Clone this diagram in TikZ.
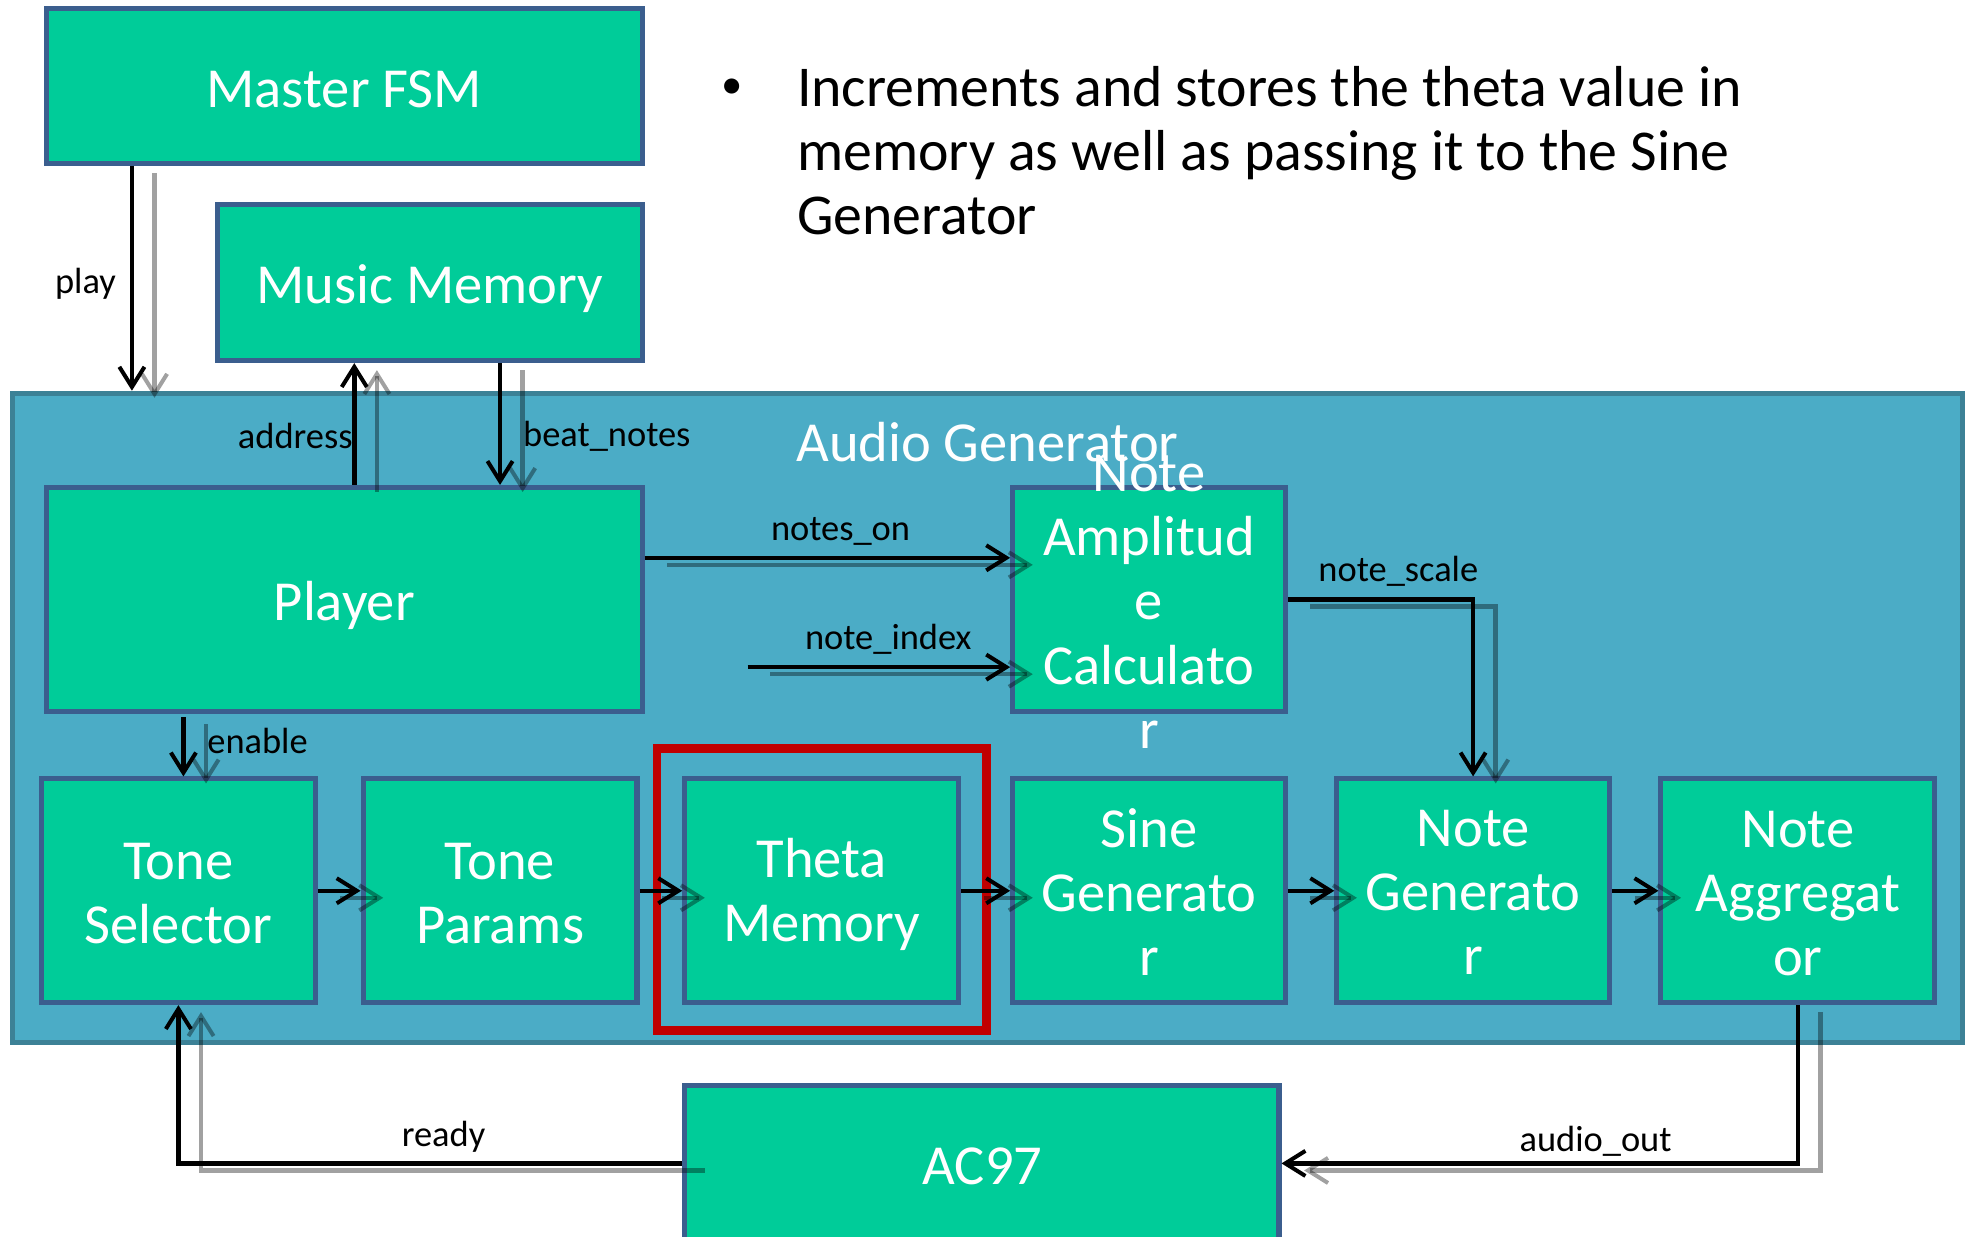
\documentclass[tikz,border=0pt]{standalone}
\usepackage{fontspec}
\setmainfont{Carlito}
\usetikzlibrary{arrows.meta,fit,calc}

\definecolor{blockfill}{HTML}{00CC99}
\definecolor{blockedge}{HTML}{3B5E8E}
\definecolor{groupfill}{HTML}{4BACC6}
\definecolor{groupedge}{HTML}{3C8196}
\definecolor{hilite}{HTML}{C00000}

\tikzset{
  block/.style={draw=blockedge, fill=blockfill, line width=2pt, inner sep=0pt},
  blocktext/.style={text=white, font=\fontsize{22.5}{25.5}\selectfont, align=center, inner sep=0pt},
  siglabel/.style={font=\fontsize{14.5}{16}\selectfont, inner sep=0pt},
  sig/.style={draw=black, line width=1.8pt, line join=miter,
    -{Straight Barb[length=8pt,width=10pt,line width=1.6pt]}},
  shadowlayer/.style={transform canvas={shift={(9pt,-2.8pt)}}, draw opacity=0.37},
}

\begin{document}
\begin{tikzpicture}[x=0.5pt,y=-0.5pt]
  \useasboundingbox (0,0) rectangle (1568,984);
  \clip (0,0) rectangle (1568,984);

  % outer group
  \node[draw=groupedge, fill=groupfill, line width=2pt, inner sep=0pt,
        fit={(10,313) (1562,830)}] (ag) {};
  \node[blocktext] (agtitle) at (786,352) {Audio Generator};

  % highlight around the theta memory
  \node[draw=hilite, line width=3.5pt, inner sep=0pt, fit={(523,596) (785,820)}] (hl) {};

  % blocks
  \node[block, fit={(37,7) (511,130)}] (fsm) {};
  \node[blocktext] (fsmt) at ($(fsm.center)+(0,3)$) {Master FSM};
  \node[block, fit={(173,163) (511,287)}] (mm) {};
  \node[blocktext] (mmt) at ($(mm.center)+(0,5)$) {Music Memory};
  \node[block, fit={(37,388) (511,566)}] (player) {};
  \node[blocktext] (playert) at ($(player.center)+(0,5)$) {Player};
  \node[block, fit={(806,388) (1023,566)}] (nac) {};
  \node[blocktext] (nact) at ($(nac.center)+(0,2)$) {Note\\Amplitud\\e\\Calculato\\r};

  \node[block, fit={(33,620) (251,798)}] (ts) {};
  \node[blocktext] (tst) at ($(ts.center)+(0,2)$) {Tone\\Selector};
  \node[block, fit={(289,620) (507,798)}] (tp) {};
  \node[blocktext] (tpt) at ($(tp.center)+(0,2)$) {Tone\\Params};
  \node[block, fit={(545,620) (763,798)}] (tm) {};
  \node[blocktext] (tmt) at ($(tm.center)+(0,3)$) {Theta\\Memory};
  \node[block, fit={(806,620) (1023,798)}] (sg) {};
  \node[blocktext] (sgt) at ($(sg.center)+(0,1)$) {Sine\\Generato\\r};
  \node[block, fit={(1064,620) (1281,798)}] (ng) {};
  \node[blocktext] (ngt) at ($(ng.center)+(0,1)$) {Note\\Generato\\r};
  \node[block, fit={(1322,620) (1540,798)}] (na) {};
  \node[blocktext] (nat) at ($(na.center)+(0,2)$) {Note\\Aggregat\\or};

  \node[block, fit={(545,864) (1018,1010)}] (ac) {};
  \node[blocktext] (act) at (782,928) {AC97};

  % free end of the note_index wire
  \coordinate (nidx) at (595,531);

  % bullet text
  \node[font=\fontsize{17}{20}\selectfont, inner sep=0pt] (bul) at (583,71) {•};
  \node[font=\fontsize{23}{25.5}\selectfont, inner sep=0pt, anchor=base west] (bl1) at (634,85)
    {Increments and stores the theta value in};
  \node[font=\fontsize{23}{25.5}\selectfont, inner sep=0pt, anchor=base west] (bl2) at (634,136)
    {memory as well as passing it to the Sine};
  \node[font=\fontsize{23}{25.5}\selectfont, inner sep=0pt, anchor=base west] (bl3) at (634,187)
    {Generator};

  % the signal wires: offset shadow first, then the wire itself
  \foreach \layer in {shadowlayer, {}} {
    \begin{scope}[\layer]
      \draw[sig] (105,0 |- fsm.south) -- (105,0 |- ag.north);
      \draw[sig] (282,0 |- player.north) -- (282,0 |- mm.south);
      \draw[sig] (398,0 |- mm.south) -- (398,0 |- player.north);
      \draw[sig] (player.east |- 0,444) -- (nac.west |- 0,444);
      \draw[sig] (nidx) -- (nac.west |- nidx);
      \draw[sig] (nac.east |- 0,477) -| (ng.north);
      \draw[sig] (146,571) -- (146,0 |- ts.north);
      \draw[sig] (ts.east) -- (tp.west);
      \draw[sig] (tp.east) -- (tm.west);
      \draw[sig] (tm.east) -- (sg.west);
      \draw[sig] (sg.east) -- (ng.west);
      \draw[sig] (ng.east) -- (na.west);
      \draw[sig] (na.south) |- (ac.east |- 0,926);
      \draw[sig] (ac.west |- 0,926) -| (ts.south);
    \end{scope}
  }

  % wire labels
  \node[siglabel] (lplay) at (68,226) {play};
  \node[siglabel] (laddr) at (235,347) {address};
  \node[siglabel] (lbeat) at (483,347) {beat\_notes};
  \node[siglabel] (lnon) at (669,423) {notes\_on};
  \node[siglabel] (lnidx) at (707,509) {note\_index};
  \node[siglabel] (lnsc) at (1113,455) {note\_scale};
  \node[siglabel] (len) at (205,590) {enable};
  \node[siglabel] (lready) at (353,905) {ready};
  \node[siglabel] (laud) at (1270,908) {audio\_out};
\end{tikzpicture}
\end{document}
